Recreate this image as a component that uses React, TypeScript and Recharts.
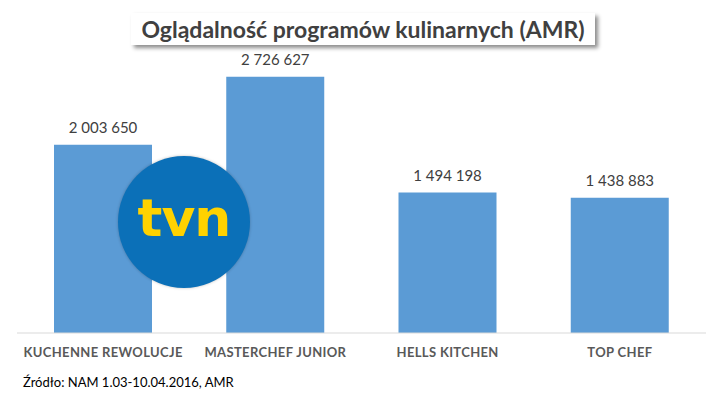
import { Bar, BarChart, LabelList, XAxis, YAxis } from "recharts";

const categories = ["KUCHENNE REWOLUCJE", "MASTERCHEF JUNIOR", "HELLS KITCHEN", "TOP CHEF"];
const amrValues = [2003650, 2726627, 1494198, 1438883];

const TITLE = "Oglądalność programów kulinarnych (AMR)";
const SOURCE = "Źródło: NAM 1.03-10.04.2016, AMR";

const BAR_COLOR = "#5b9bd5";
const TEXT_COLOR = "#404040";

// polish style thousands separator: "2 003 650"
const fmt = (v: unknown) => String(v).replace(/\B(?=(\d{3})+(?!\d))/g, " ");

export default function App() {
  const data = categories.map((name, i) => ({ name, amr: amrValues[i] }));

  return (
    <div
      style={{
        position: "absolute",
        left: 0,
        top: 0,
        width: 723,
        height: 394,
        background: "#fff",
        fontFamily: "Lato, sans-serif",
      }}
    >
      <BarChart
        width={723}
        height={394}
        data={data}
        margin={{ top: 51, right: 17, bottom: 0, left: 17 }}
        barSize={98}
      >
        <XAxis
          dataKey="name"
          height={61}
          tickLine={false}
          tickSize={0}
          tickMargin={15}
          axisLine={{ stroke: "#d9d9d9" }}
          tick={{ fill: "#595959", fontSize: 13, fontWeight: 700, fontFamily: "Lato", letterSpacing: 0.35 }}
          interval={0}
        />
        <YAxis hide domain={[0, 3000000]} />
        <Bar dataKey="amr" fill={BAR_COLOR} isAnimationActive={false}>
          <LabelList
            dataKey="amr"
            position="top"
            offset={12}
            formatter={fmt}
            style={{ fill: TEXT_COLOR, fontSize: 15, fontFamily: "Lato" }}
          />
        </Bar>
      </BarChart>

      {/* title box with shadow */}
      <div
        style={{
          position: "absolute",
          left: 131,
          top: 13,
          width: 464,
          height: 32,
          background: "#fff",
          boxShadow: "3px 3px 4px rgba(0,0,0,0.45)",
          display: "flex",
          alignItems: "center",
          justifyContent: "center",
          color: TEXT_COLOR,
          fontSize: 23,
          fontWeight: 700,
          whiteSpace: "nowrap",
        }}
      >
        {TITLE}
      </div>

      {/* tvn logo */}
      <div
        style={{
          position: "absolute",
          left: 118,
          top: 156,
          width: 132,
          height: 132,
          borderRadius: "50%",
          background: "#0b70b8",
          boxShadow: "0 0 3px rgba(0,0,0,0.25)",
          display: "flex",
          alignItems: "center",
          justifyContent: "center",
          color: "#ffd200",
          fontFamily: "DejaVu Sans, sans-serif",
          fontWeight: 700,
          fontSize: 52,
          letterSpacing: -1,
          lineHeight: 1,
          paddingBottom: 8,
          boxSizing: "border-box",
        }}
      >
        tvn
      </div>

      <div
        style={{
          position: "absolute",
          left: 23,
          top: 374,
          fontSize: 13,
          color: "#000",
          whiteSpace: "nowrap",
        }}
      >
        {SOURCE}
      </div>
    </div>
  );
}
